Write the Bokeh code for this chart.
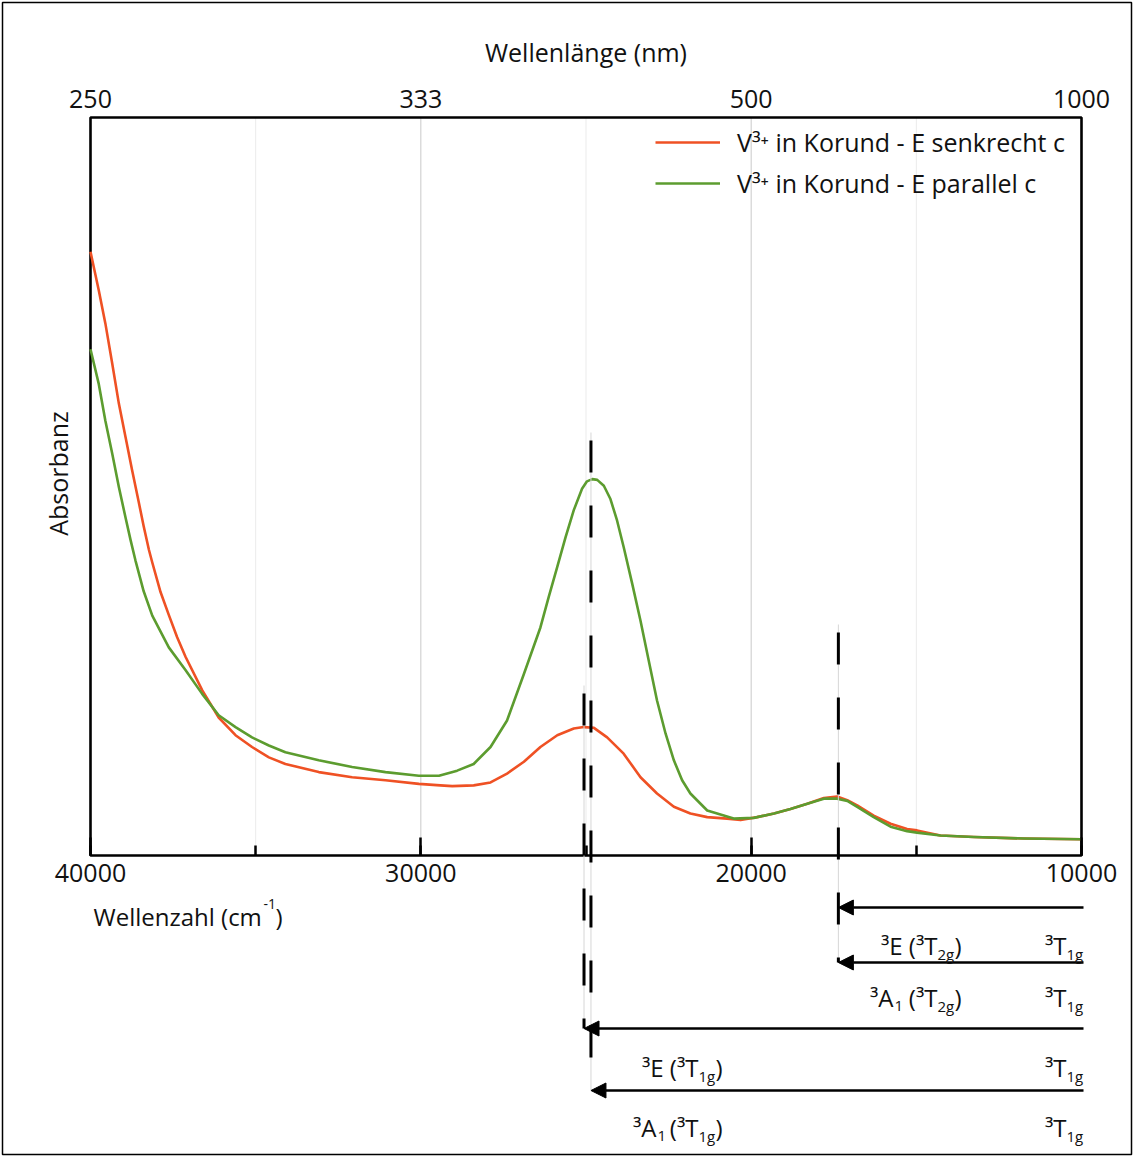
import math
from bokeh.plotting import figure
from bokeh.models import (Range1d, LinearAxis, SingleIntervalTicker, FixedTicker,
                          Arrow, NormalHead, Label, Legend, LegendItem, Grid)
from bokeh.embed import file_html
from bokeh.resources import INLINE

# ---------------- data ----------------
wn_senk = [40000, 39750, 39550, 39340, 39140, 38940, 38740, 38540, 38390, 38230,
           38130, 37880, 37630, 37380, 37120, 36620, 36120, 35610, 35110, 34600,
           34100, 33090, 32080, 31070, 30060, 29410, 29050, 28400, 27890, 27390,
           26880, 26380, 25870, 25370, 25070, 24760, 24360, 23860, 23350, 22850,
           22340, 21840, 21330, 20730, 20320, 19820, 19310, 18810, 18300, 17800,
           17400, 17090, 16790, 16290, 15780, 15280, 14980, 14270, 13260, 11750,
           10000]
abs_senk = [0.818, 0.766, 0.721, 0.666, 0.612, 0.567, 0.522, 0.479, 0.446, 0.414,
            0.397, 0.357, 0.326, 0.296, 0.269, 0.224, 0.187, 0.163, 0.147, 0.133,
            0.124, 0.113, 0.106, 0.102, 0.097, 0.095, 0.094, 0.095, 0.099, 0.111,
            0.127, 0.147, 0.163, 0.172, 0.174, 0.173, 0.160, 0.138, 0.106, 0.084,
            0.066, 0.057, 0.052, 0.050, 0.048, 0.052, 0.057, 0.063, 0.070, 0.078,
            0.080, 0.075, 0.068, 0.054, 0.043, 0.036, 0.034, 0.027, 0.025, 0.023,
            0.022]

wn_par = [40000, 39750, 39550, 39340, 39140, 38940, 38790, 38640, 38390, 38130,
          37630, 37120, 36620, 36120, 35610, 35110, 34600, 34100, 33090, 32080,
          31070, 30060, 29450, 28900, 28400, 27890, 27390, 26880, 26380, 26130,
          25870, 25620, 25370, 25120, 24970, 24810, 24660, 24460, 24260, 24060,
          23860, 23600, 23350, 23100, 22850, 22590, 22340, 22090, 21840, 21330,
          20530, 19920, 19310, 18810, 18300, 17800, 17400, 17090, 16790, 16290,
          15780, 15280, 14980, 14270, 13260, 11750, 10000]
abs_par = [0.686, 0.639, 0.589, 0.544, 0.499, 0.458, 0.428, 0.400, 0.358, 0.325,
           0.282, 0.251, 0.219, 0.190, 0.174, 0.160, 0.149, 0.140, 0.129, 0.120,
           0.113, 0.108, 0.108, 0.115, 0.124, 0.147, 0.183, 0.246, 0.309, 0.350,
           0.391, 0.431, 0.468, 0.497, 0.507, 0.510, 0.509, 0.501, 0.483, 0.454,
           0.418, 0.368, 0.318, 0.264, 0.210, 0.165, 0.129, 0.102, 0.084, 0.061,
           0.050, 0.051, 0.057, 0.063, 0.070, 0.077, 0.077, 0.074, 0.066, 0.052,
           0.039, 0.033, 0.031, 0.027, 0.025, 0.023, 0.022]

series_labels = ["V³⁺ in Korund - E senkrecht c", "V³⁺ in Korund - E parallel c"]

wl_tick_wn = [40000, 30000, 20000, 10000]
wl_tick_labels = ["250", "333", "500", "1000"]

# d-d transitions of V3+ (wavenumber of the band), from the 3T1g ground state
trans_wn = [17360, 17360, 25060, 24850]
trans_state = ["³E", "³A", "³E", "³A"]
trans_state_sub = ["", "1", "", "1"]
trans_parent_sub = ["2g", "2g", "1g", "1g"]

FONT = "Open Sans"
ORANGE = "#ef5124"
GREEN = "#5c9c2f"
INK = "#111111"

# ---------------- layout (page pixels -> data coordinates) ----------------
W, H = 1134, 1157
FL, FR, FT, FB = 90, 1081, 117, 855   # spectrum box in page pixels


def X(px):
    return 40000 - (px - FL) * 30000 / (FR - FL)


def Y(py):
    return (FB - py) / (FB - FT)


p = figure(width=W, height=H, output_backend="svg", toolbar_location=None,
           x_range=Range1d(X(0), X(W)), y_range=Range1d(Y(H), Y(0)),
           x_axis_location=None, y_axis_location=None, min_border=0)
p.center = [r for r in p.center if not isinstance(r, Grid)]
p.outline_line_color = None
p.background_fill_color = "white"
p.border_fill_color = "white"

# page frame
p.quad(left=[X(2)], right=[X(1131)], top=[Y(2)], bottom=[Y(1154)],
       fill_color=None, line_color="black", line_width=1.5)

# vertical grid lines inside the spectrum box
grid_major = [30000, 20000]
grid_minor = [35000, 25000, 15000]
p.segment(x0=grid_minor, x1=grid_minor, y0=[0] * 3, y1=[1] * 3,
          line_color="#ebebeb", line_width=1, level="underlay")
p.segment(x0=grid_major, x1=grid_major, y0=[0] * 2, y1=[1] * 2,
          line_color="#c9c9c9", line_width=1, level="underlay")

# bottom axis: wavenumber
ax = LinearAxis(fixed_location=0, bounds=(10000, 40000),
                ticker=SingleIntervalTicker(interval=10000, num_minor_ticks=2))
ax.axis_line_color = None
ax.major_tick_in = 18
ax.major_tick_out = 0
ax.minor_tick_in = 10
ax.minor_tick_out = 0
ax.major_tick_line_width = 2.5
ax.minor_tick_line_width = 2.5
ax.major_label_text_font = FONT
ax.major_label_text_font_size = "25px"
ax.major_label_text_color = INK
ax.major_label_standoff = 8
p.add_layout(ax, "below")

# top axis: wavelength
top = LinearAxis(fixed_location=1, bounds=(10000, 40000),
                 ticker=FixedTicker(ticks=wl_tick_wn),
                 major_label_overrides=dict(zip(wl_tick_wn, wl_tick_labels)),
                 axis_label="Wellenlänge (nm)")
top.axis_line_color = None
top.major_tick_in = 0
top.major_tick_out = 0
top.minor_tick_in = 0
top.minor_tick_out = 0
top.major_label_text_font = FONT
top.major_label_text_font_size = "25px"
top.major_label_text_color = INK
top.major_label_standoff = 10
top.axis_label_text_font = FONT
top.axis_label_text_font_size = "25px"
top.axis_label_text_font_style = "normal"
top.axis_label_text_color = INK
top.axis_label_standoff = 18
p.add_layout(top, "above")

# spectrum box
p.quad(left=[40000], right=[10000], bottom=[0], top=[1],
       fill_color=None, line_color="black", line_width=2.6)

# ---------------- spectra ----------------
r1 = p.line(wn_senk, abs_senk, line_color=ORANGE, line_width=2.6, line_join="round")
r2 = p.line(wn_par, abs_par, line_color=GREEN, line_width=2.6, line_join="round")

legend = Legend(items=[LegendItem(label=series_labels[0], renderers=[r1]),
                       LegendItem(label=series_labels[1], renderers=[r2])],
                location=(655, H - 201))
legend.label_text_font = FONT
legend.label_text_font_size = "25px"
legend.label_text_color = INK
legend.glyph_width = 65
legend.glyph_height = 36
legend.label_height = 36
legend.label_standoff = 17
legend.spacing = 5
legend.padding = 0
legend.margin = 0
legend.border_line_color = None
legend.background_fill_alpha = 0
p.add_layout(legend)

# ---------------- transitions: dashed markers and arrows ----------------
dash_top = [632, 632, 693, 440]
dash_bottom = [962, 962, 1028, 1090]
arrow_rows = [907, 962, 1028, 1090]
label_base = [945, 997, 1067, 1127]

mk_wn = trans_wn[1:]
p.segment(x0=mk_wn, x1=mk_wn, y0=[Y(t - 8) for t in dash_top[1:]],
          y1=[Y(b) for b in dash_bottom[1:]], line_color="#d6d6d6", line_width=1)
for wn, t, b in zip(mk_wn, dash_top[1:], dash_bottom[1:]):
    p.line([wn, wn], [Y(t), Y(b)], line_color="black", line_width=3, line_dash="32 33")

for wn, row in zip(trans_wn, arrow_rows):
    p.add_layout(Arrow(end=NormalHead(size=15, fill_color="black", line_color="black",
                                      line_width=1),
                       x_start=X(1083), x_end=wn, y_start=Y(row), y_end=Y(row),
                       line_color="black", line_width=2.5))


def lab(text, px, py, size=24, align="left", angle=0.0):
    p.add_layout(Label(x=X(px), y=Y(py), text=text, text_font=FONT,
                       text_font_size=f"{size}px", text_color=INK, text_align=align,
                       text_baseline="alphabetic", angle=angle))


state_right = [None, 893, None, 656]
paren_right = [937, 937, 698, 698]
for i in range(4):
    yb = label_base[i]
    if trans_state_sub[i]:
        lab(trans_state[i], state_right[i], yb, align="right")
        lab(trans_state_sub[i], state_right[i] + 1, yb + 8, size=15)
        lab("(³T", paren_right[i], yb, align="right")
    else:
        lab(trans_state[i] + " (³T", paren_right[i], yb, align="right")
    lab(trans_parent_sub[i], paren_right[i], yb + 8, size=15)
    lab(")", paren_right[i] + 17, yb)
    lab("³T", 1066, yb, align="right")
    lab("1g", 1066, yb + 8, size=15)

# axis titles
lab("Wellenzahl (cm", 93, 916, size=24)
lab("-1", 263, 903, size=14)
lab(")", 275, 916, size=24)
lab("Absorbanz", 57, 473, size=25, align="center", angle=math.pi / 2)

open("out.html", "w").write(file_html(p, INLINE))
